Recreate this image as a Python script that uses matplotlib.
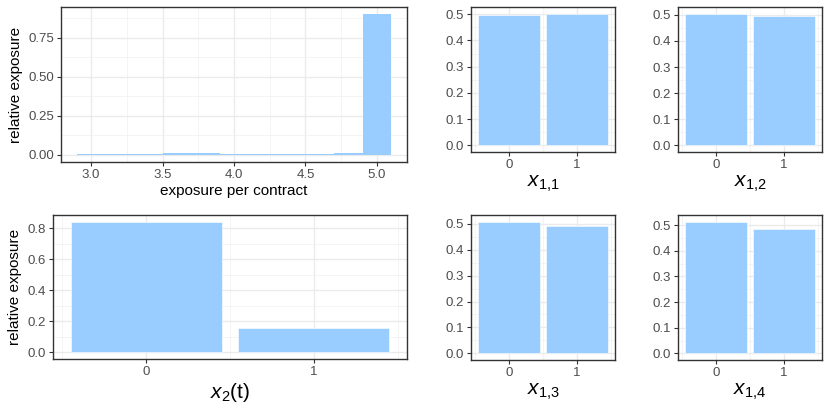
import numpy as np
import matplotlib.pyplot as plt
from matplotlib.ticker import MultipleLocator

plt.rcParams['font.family'] = ['Liberation Sans', 'DejaVu Sans']
plt.rcParams['mathtext.fontset'] = 'custom'
plt.rcParams['mathtext.rm'] = 'Liberation Sans'
plt.rcParams['mathtext.it'] = 'Liberation Sans:italic'

# exposure histogram (bin centres, width 0.2)
hist_centres = [3.0, 3.2, 3.4, 3.6, 3.8, 4.0, 4.2, 4.4, 4.6, 4.8, 5.0]
hist_values = [0.004, 0.008, 0.009, 0.010, 0.011, 0.007, 0.009, 0.009, 0.008, 0.010, 0.902]

# binary features
levels = [0, 1]
x2_values = [0.842, 0.158]
x11_values = [0.498, 0.502]
x12_values = [0.505, 0.495]
x13_values = [0.508, 0.492]
x14_values = [0.514, 0.486]

fill = '#99CCFF'
W, H = 830, 415
fig = plt.figure(figsize=(W / 100, H / 100), dpi=100)


def make_ax(x0, y0, x1, y1):
    return fig.add_axes([x0 / W, 1 - y1 / H, (x1 - x0) / W, (y1 - y0) / H])


def style(ax, major_y, minor_y):
    ax.set_axisbelow(True)
    ax.yaxis.set_major_locator(MultipleLocator(major_y))
    ax.yaxis.set_minor_locator(MultipleLocator(minor_y))
    ax.grid(True, which='major', color='#EBEBEB', lw=1.0)
    ax.grid(True, which='minor', color='#F2F2F2', lw=0.6)
    for s in ax.spines.values():
        s.set_color('#333333')
        s.set_linewidth(1.0)
    ax.tick_params(which='major', length=3, width=0.8, color='#333333',
                   labelsize=9.5, labelcolor='#4D4D4D', pad=2)
    ax.tick_params(which='minor', length=0)


# top-left histogram
ax = make_ax(61, 7, 407, 162)
ax.bar(hist_centres, hist_values, width=0.2, color=fill, edgecolor='none')
ax.set_xlim(2.79, 5.21)
ax.set_ylim(-0.045, 0.947)
style(ax, 0.25, 0.125)
ax.xaxis.set_major_locator(MultipleLocator(0.5))
ax.xaxis.set_minor_locator(MultipleLocator(0.25))
ax.yaxis.set_major_formatter(plt.FormatStrFormatter('%.2f'))
ax.xaxis.set_major_formatter(plt.FormatStrFormatter('%.1f'))
ax.set_xlabel('exposure per contract', fontsize=11, labelpad=2)
ax.set_ylabel('relative exposure', fontsize=11, labelpad=4)

# bottom-left x2(t)
ax = make_ax(53, 215, 407, 359)
ax.bar(levels, x2_values, width=0.9, color=fill, edgecolor='white', lw=0.4)
ax.set_xlim(-0.555, 1.555)
ax.set_ylim(-0.042, 0.884)
style(ax, 0.2, 0.1)
ax.set_xticks(levels)
ax.xaxis.set_minor_locator(MultipleLocator(0.5))
ax.yaxis.set_major_formatter(plt.FormatStrFormatter('%.1f'))
ax.set_xlabel(r'$x_2\mathrm{(t)}$', fontsize=15, labelpad=2)
ax.set_ylabel('relative exposure', fontsize=11, labelpad=4)

small = [
    ((471, 7, 615, 152), x11_values, r'$x_{1{,}1}$'),
    ((678, 7, 822, 152), x12_values, r'$x_{1{,}2}$'),
    ((471, 215, 615, 360), x13_values, r'$x_{1{,}3}$'),
    ((678, 215, 822, 360), x14_values, r'$x_{1{,}4}$'),
]
for box, vals, lab in small:
    ax = make_ax(*box)
    ax.bar(levels, vals, width=0.9, color=fill, edgecolor='white', lw=0.4)
    ax.set_xlim(-0.555, 1.555)
    top = max(vals)
    ax.set_ylim(-0.05 * top, 1.05 * top)
    style(ax, 0.1, 0.05)
    ax.set_xticks(levels)
    ax.xaxis.set_minor_locator(MultipleLocator(0.5))
    ax.yaxis.set_major_formatter(plt.FormatStrFormatter('%.1f'))
    ax.set_xlabel(lab, fontsize=15, labelpad=2)

fig.savefig('out.png', dpi=100)
